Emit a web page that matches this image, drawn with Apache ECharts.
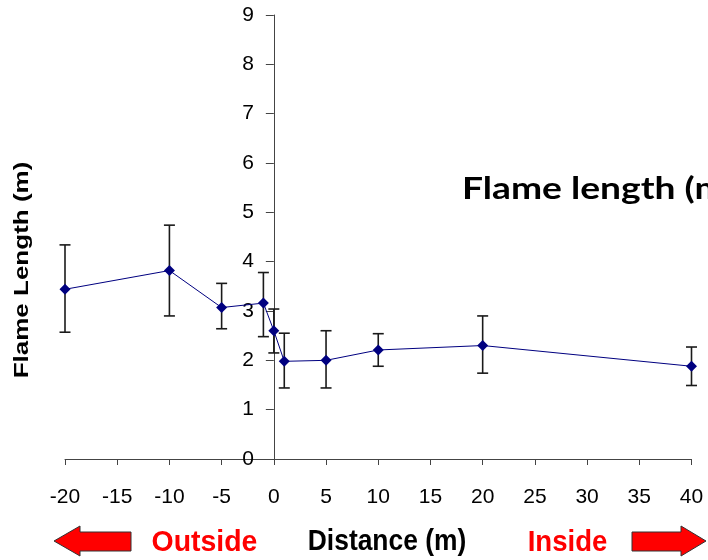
<!DOCTYPE html>
<html>
<head>
<meta charset="utf-8">
<script src="https://cdn.jsdelivr.net/npm/echarts@6/dist/echarts.min.js"></script>
<style>
  html, body { margin: 0; padding: 0; background: #fff; }
  #chart { width: 708px; height: 560px; }
</style>
</head>
<body>
<div id="chart"></div>
<script>
// Flame length measured at distances from the edge (negative = outside, positive = inside)
const distances = [-20, -10, -5, -1, 0, 1, 5, 10, 20, 40];
const flameMean = [3.44, 3.82, 3.07, 3.16, 2.60, 1.98, 2.00, 2.21, 2.30, 1.88];
const flameLow  = [2.57, 2.90, 2.64, 2.48, 2.15, 1.44, 1.44, 1.88, 1.74, 1.49];
const flameHigh = [4.34, 4.74, 3.56, 3.78, 3.04, 2.55, 2.60, 2.54, 2.90, 2.27];

const xTicks = { min: -20, max: 40, interval: 5 };
const yTicks = { min: 0, max: 9, interval: 1 };

const gridLeft = 65;
const chart = echarts.init(document.getElementById('chart'), null, { renderer: 'canvas' });

const meanData = distances.map((d, i) => [d, flameMean[i]]);
const barData = distances.map((d, i) => [d, flameLow[i], flameHigh[i]]);

function renderErrorBar(params, api) {
  const x = api.value(0);
  const lo = api.coord([x, api.value(1)]);
  const hi = api.coord([x, api.value(2)]);
  const half = 5.5;
  const style = { stroke: '#1a1a1a', lineWidth: 1.6, fill: null };
  return {
    type: 'group',
    children: [
      { type: 'line', shape: { x1: lo[0], y1: lo[1], x2: hi[0], y2: hi[1] }, style },
      { type: 'line', shape: { x1: hi[0] - half, y1: hi[1], x2: hi[0] + half, y2: hi[1] }, style },
      { type: 'line', shape: { x1: lo[0] - half, y1: lo[1], x2: lo[0] + half, y2: lo[1] }, style }
    ]
  };
}

const axisColor = '#444';
const tickFont = { fontFamily: 'Liberation Sans, Arial, sans-serif', fontSize: 21, color: '#000' };

chart.setOption({
  animation: false,
  backgroundColor: '#fff',
  grid: { left: gridLeft, right: 16.5, top: 15, bottom: 101 },
  xAxis: {
    type: 'value',
    min: xTicks.min, max: xTicks.max, interval: xTicks.interval,
    splitLine: { show: false },
    axisLine: { lineStyle: { color: axisColor, width: 1 } },
    axisTick: { length: 6, lineStyle: { color: axisColor } },
    axisLabel: Object.assign({ margin: 28 }, tickFont)
  },
  yAxis: {
    type: 'value',
    position: 'left',
    min: yTicks.min, max: yTicks.max, interval: yTicks.interval,
    splitLine: { show: false },
    axisLine: { onZero: false, lineStyle: { color: axisColor, width: 1 } },
    axisTick: { length: 8, lineStyle: { color: axisColor } },
    axisLabel: Object.assign({ margin: 20, showMinLabel: true }, tickFont)
  },
  series: [
    {
      type: 'custom',
      name: 'error',
      renderItem: renderErrorBar,
      data: barData,
      encode: { x: 0, y: [1, 2] },
      z: 2
    },
    {
      type: 'line',
      name: 'Flame length',
      data: meanData,
      symbol: 'diamond',
      symbolSize: [11, 11],
      lineStyle: { color: '#000080', width: 1 },
      itemStyle: { color: '#000080' },
      z: 3
    }
  ],
  graphic: [
    {
      type: 'text',
      x: 22, y: 270,
      rotation: Math.PI / 2,
      scaleX: 1.3,
      style: {
        text: 'Flame Length (m)',
        font: 'bold 20px Liberation Sans, Arial, sans-serif',
        fill: '#000',
        align: 'center',
        verticalAlign: 'middle'
      }
    },
    {
      type: 'text',
      x: 462, y: 189,
      scaleX: 1.24,
      style: {
        text: 'Flame length (m)',
        font: 'bold 30px Lato, sans-serif',
        fill: '#000',
        align: 'left',
        verticalAlign: 'middle'
      }
    },
    {
      type: 'polygon',
      shape: { points: [[54, 541], [80, 526], [80, 532], [131, 532], [131, 551], [80, 551], [80, 556]] },
      style: { fill: '#ff0000', stroke: '#333', lineWidth: 1 }
    },
    {
      type: 'polygon',
      shape: { points: [[706, 541], [681, 526], [681, 532], [632, 532], [632, 551], [681, 551], [681, 556]] },
      style: { fill: '#ff0000', stroke: '#333', lineWidth: 1 }
    },
    {
      type: 'text', x: 204.5, y: 543, scaleX: 0.98,
      style: { text: 'Outside', font: 'bold 29px Liberation Sans, Arial, sans-serif', fill: '#ff0000', align: 'center', verticalAlign: 'middle' }
    },
    {
      type: 'text', x: 387, y: 542, scaleX: 0.91,
      style: { text: 'Distance (m)', font: 'bold 29px Liberation Sans, Arial, sans-serif', fill: '#000', align: 'center', verticalAlign: 'middle' }
    },
    {
      type: 'text', x: 567.5, y: 543, scaleX: 0.95,
      style: { text: 'Inside', font: 'bold 29px Liberation Sans, Arial, sans-serif', fill: '#ff0000', align: 'center', verticalAlign: 'middle' }
    }
  ]
});

// Shift the vertical axis (line, ticks and labels) so it crosses at distance 0
const zeroX = chart.convertToPixel({ xAxisIndex: 0 }, 0);
chart.setOption({ yAxis: { offset: gridLeft - zeroX } });
</script>
</body>
</html>
